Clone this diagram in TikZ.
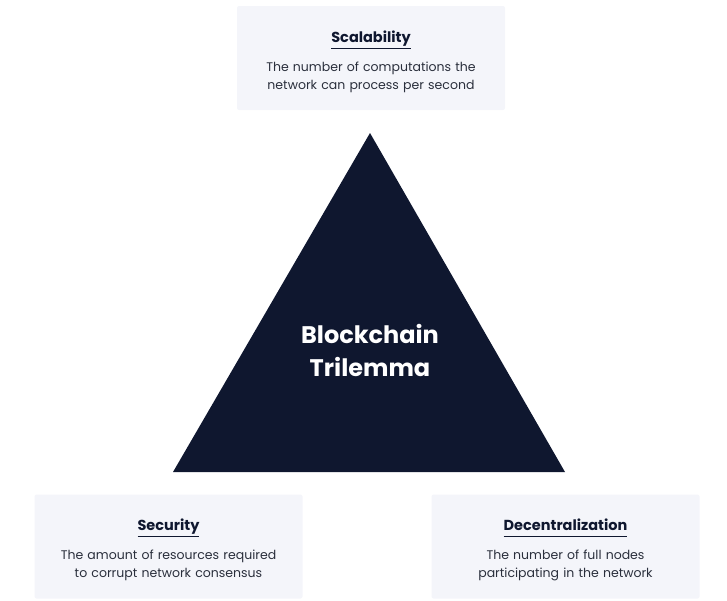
\documentclass[tikz,border=0pt]{standalone}
\usepackage{fontspec}
\setmainfont{Poppins}
\usepackage{tikz}

\definecolor{navy}{HTML}{0F172F}
\definecolor{panel}{HTML}{F4F5FA}
\definecolor{ink}{HTML}{2A2F3C}

\begin{document}
\begin{tikzpicture}[
  x=1pt, y=-1pt,
  card/.style={rectangle, fill=panel, rounded corners=2pt, minimum width=268pt, minimum height=104pt, inner sep=0pt},
  head/.style={font=\fontsize{14.5}{16}\selectfont\bfseries, text=navy},
  desc/.style={text width=250pt, align=center, font=\fontsize{12.5}{18}\selectfont, text=ink}
]
\useasboundingbox (0,0) rectangle (727,600);

% the triangle
\coordinate (apex) at (370,133);
\coordinate (left) at (173,472);
\coordinate (right) at (565,472);
\fill [navy] (apex) -- (left) -- (right) -- cycle;
\node [text=white, align=center, font=\fontsize{24}{33}\selectfont\bfseries] (trilemma) at (370,350) {Blockchain\\Trilemma};

% the three cards
\node [card] (scal) at (371,58) {};
\node [head] (scalhead) at (371,40) {\underline{\vphantom{y}Scalability}};
\node [desc] (scaldesc) at (371,77) {The number of computations the\\network can process per second};

\node [card] (sec) at (168.5,546.5) {};
\node [head] (sechead) at (168.5,528) {\underline{\vphantom{y}Security}};
\node [desc] (secdesc) at (168.5,565) {The amount of resources required\\to corrupt network consensus};

\node [card] (dec) at (565.5,546.5) {};
\node [head] (dechead) at (565.5,528) {\underline{\vphantom{y}Decentralization}};
\node [desc] (decdesc) at (565.5,565) {The number of full nodes\\participating in the network};
\end{tikzpicture}
\end{document}
